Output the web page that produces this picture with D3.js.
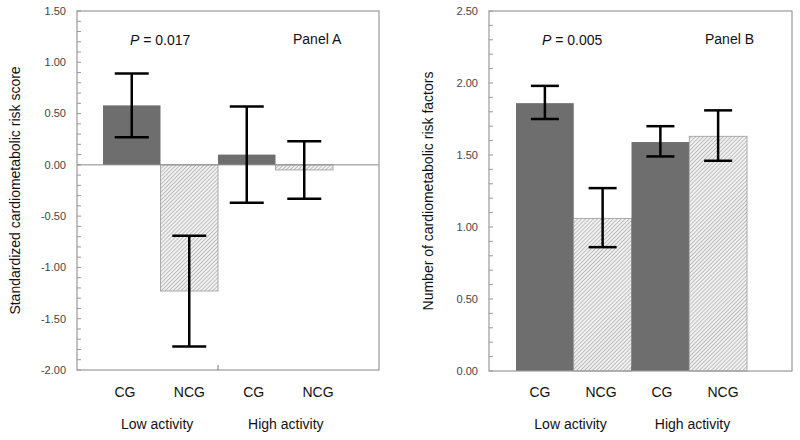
<!DOCTYPE html>
<html>
<head>
<meta charset="utf-8">
<script src="https://cdn.jsdelivr.net/npm/d3@7"></script>
<style>
  html, body { margin: 0; padding: 0; background: #fff; }
  svg { display: block; font-family: "Liberation Sans", Arial, sans-serif; }
</style>
</head>
<body>
<svg id="chart" width="800" height="440"></svg>
<script>
// ---- data ----
const categories = ["CG", "NCG", "CG", "NCG"];
const groups = ["Low activity", "High activity"];
const isConsumer = [true, false, true, false];

const scoreMeans = [0.58, -1.23, 0.10, -0.05];
const scoreLower = [0.27, -1.77, -0.37, -0.33];
const scoreUpper = [0.89, -0.69, 0.57, 0.23];
const scoreTicks = [-2.0, -1.5, -1.0, -0.5, 0.0, 0.5, 1.0, 1.5];

const countMeans = [1.86, 1.06, 1.59, 1.63];
const countLower = [1.75, 0.86, 1.49, 1.46];
const countUpper = [1.98, 1.27, 1.70, 1.81];
const countTicks = [0.0, 0.5, 1.0, 1.5, 2.0, 2.5];

const svg = d3.select("#chart");
const defs = svg.append("defs");
const pat = defs.append("pattern")
  .attr("id", "hatch").attr("patternUnits", "userSpaceOnUse")
  .attr("width", 2.8).attr("height", 2.8)
  .attr("patternTransform", "rotate(45)");
pat.append("rect").attr("width", 2.8).attr("height", 2.8).attr("fill", "#f2f2f2");
pat.append("line").attr("x1", 0).attr("y1", 0).attr("x2", 0).attr("y2", 2.8)
  .attr("stroke", "#8a8a8a").attr("stroke-width", 1);

const fmt = d => d3.format(".2f")(d).replace("\u2212", "-");

function panel(cfg) {
  const g = svg.append("g");
  const y = d3.scaleLinear().domain(cfg.domain).range([cfg.bottom, cfg.top]);
  const x = d3.scaleBand().domain(d3.range(categories.length)).range(cfg.barRange).padding(0);
  const xl = d3.scalePoint().domain(d3.range(categories.length)).range(cfg.labelRange);

  // minor ticks (inside)
  const minor = d3.range(Math.round(cfg.domain[0] * 10), Math.round(cfg.domain[1] * 10) + 1).map(v => v / 10);
  g.selectAll(".minor").data(minor).join("line")
    .attr("x1", cfg.left).attr("x2", cfg.left + 4)
    .attr("y1", d => y(d)).attr("y2", d => y(d))
    .attr("stroke", "#999").attr("stroke-width", 1);

  // tick labels
  g.selectAll(".tl").data(cfg.ticks).join("text")
    .attr("x", cfg.left - 11).attr("y", d => y(d)).attr("dy", "0.35em")
    .attr("text-anchor", "end").attr("font-size", 11).attr("fill", "#444")
    .text(fmt);

  // bars
  g.selectAll(".bar").data(cfg.means).join("rect")
    .attr("x", (d, i) => x(i)).attr("width", x.bandwidth())
    .attr("y", d => y(Math.max(0, d))).attr("height", d => Math.abs(y(d) - y(0)))
    .attr("fill", (d, i) => isConsumer[i] ? "#6e6e6e" : "url(#hatch)")
    .attr("stroke", (d, i) => isConsumer[i] ? "none" : "#9a9a9a")
    .attr("stroke-width", 0.8);

  // zero line
  if (cfg.domain[0] < 0) {
    g.append("line").attr("x1", cfg.left).attr("x2", cfg.right)
      .attr("y1", y(0)).attr("y2", y(0)).attr("stroke", "#888").attr("stroke-width", 1);
  }

  // frame
  g.append("rect").attr("x", cfg.left).attr("y", cfg.top)
    .attr("width", cfg.right - cfg.left).attr("height", cfg.bottom - cfg.top)
    .attr("fill", "none").attr("stroke", "#999").attr("stroke-width", 1.2);

  // mid tick on x axis
  g.append("line").attr("x1", x(2)).attr("x2", x(2))
    .attr("y1", cfg.bottom).attr("y2", cfg.bottom - 5)
    .attr("stroke", "#777").attr("stroke-width", 1);

  // error bars
  const eb = g.selectAll(".eb").data(cfg.means).join("g");
  const cx = i => x(i) + x.bandwidth() / 2;
  eb.append("line").attr("x1", (d, i) => cx(i)).attr("x2", (d, i) => cx(i))
    .attr("y1", (d, i) => y(cfg.upper[i])).attr("y2", (d, i) => y(cfg.lower[i]))
    .attr("stroke", "#000").attr("stroke-width", 2.5);
  [cfg.upper, cfg.lower].forEach(arr => {
    eb.append("line")
      .attr("x1", (d, i) => cx(i) - cfg.cap / 2).attr("x2", (d, i) => cx(i) + cfg.cap / 2)
      .attr("y1", (d, i) => y(arr[i])).attr("y2", (d, i) => y(arr[i]))
      .attr("stroke", "#000").attr("stroke-width", 2.5);
  });

  // category labels
  g.selectAll(".cl").data(categories).join("text")
    .attr("x", (d, i) => xl(i)).attr("y", 397)
    .attr("text-anchor", "middle").attr("font-size", 14).attr("fill", "#111")
    .text(d => d);

  // group labels
  g.selectAll(".gl").data(groups).join("text")
    .attr("x", (d, i) => (xl(2 * i) + xl(2 * i + 1)) / 2).attr("y", 429)
    .attr("text-anchor", "middle").attr("font-size", 14).attr("fill", "#111")
    .text(d => d);

  // y title
  g.append("text")
    .attr("transform", `translate(${cfg.titleX},${(cfg.top + cfg.bottom) / 2}) rotate(-90)`)
    .attr("text-anchor", "middle").attr("font-size", 14).attr("fill", "#111")
    .text(cfg.title);

  // P value
  const pt = g.append("text").attr("x", cfg.pX).attr("y", 45)
    .attr("font-size", 14).attr("fill", "#111");
  pt.append("tspan").attr("font-style", "italic").text("P");
  pt.append("tspan").text(" = " + cfg.p);

  // panel label
  g.append("text").attr("x", cfg.panelX).attr("y", 44)
    .attr("font-size", 14).attr("fill", "#111").text(cfg.panel);
}

panel({
  left: 77, right: 379, top: 11, bottom: 370,
  domain: [-2.0, 1.5], ticks: scoreTicks,
  barRange: [103, 333], labelRange: [125, 318],
  means: scoreMeans, lower: scoreLower, upper: scoreUpper, cap: 34,
  title: "Standardized cardiometabolic risk score", titleX: 20,
  p: "0.017", pX: 130, panel: "Panel A", panelX: 293
});

panel({
  left: 489, right: 792, top: 11, bottom: 371,
  domain: [0.0, 2.5], ticks: countTicks,
  barRange: [516, 747], labelRange: [540, 723],
  means: countMeans, lower: countLower, upper: countUpper, cap: 28,
  title: "Number of cardiometabolic risk factors", titleX: 433,
  p: "0.005", pX: 542, panel: "Panel B", panelX: 705
});
</script>
</body>
</html>
